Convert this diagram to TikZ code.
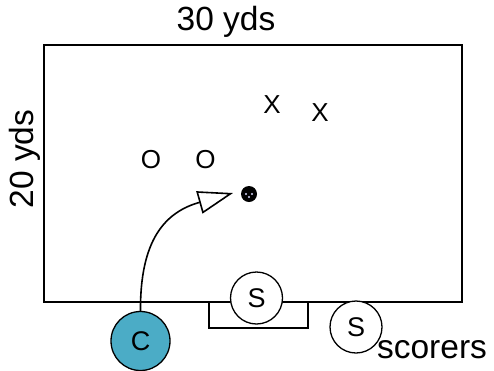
\documentclass[tikz,border=0pt]{standalone}
\usepackage{fontspec}
\setmainfont{Liberation Sans}
\usetikzlibrary{arrows.meta}
\definecolor{coachblue}{HTML}{4BACC6}

\begin{document}
\begin{tikzpicture}[x=1pt,y=-1pt]
\tikzstyle{every node}+=[inner sep=0pt]
\tikzstyle{big}=[font=\fontsize{33.5}{38}\selectfont]
\tikzstyle{glyph}=[font=\fontsize{26}{30}\selectfont]
\tikzstyle{player}=[circle, draw, line width=1.3pt, minimum size=52pt, fill=white, font=\fontsize{27}{30}\selectfont]
\useasboundingbox (0,0) rectangle (494,370);
\draw [line width=1.6pt] (44,45) rectangle (462,302);
\draw [line width=1.6pt] (209,302) -- (209,328) -- (308,328) -- (308,302);
\node [big] (len) at (226,22) {30 yds};
\node [big, rotate=90] (wid) at (25,159) {20 yds};
\node [glyph] (x1) at (272,105) {X};
\node [glyph] (x2) at (320,113) {X};
\node [glyph] (o1) at (151,160) {O};
\node [glyph] (o2) at (205.5,160) {O};
\node [circle, fill=black, minimum size=16pt] (ball) at (249,194) {};
\fill [blue!15] (246,194) circle (1.1) (252,194) circle (1.1) (249,197) circle (1.1);
\node [player] (s1) at (256.5,298) {S};
\node [player] (s2) at (356,327) {S};
\node [big] (lab) at (432,350) {scorers};
\node [player, fill=coachblue, minimum size=59pt] (c) at (140.5,341) {C};
\coordinate (pass) at (233,193);
\draw [line width=1.6pt, -{Triangle[open, length=35pt, width=23pt]}] (c.north) .. controls (140,240) and (165,212) .. (pass);
\end{tikzpicture}
\end{document}
